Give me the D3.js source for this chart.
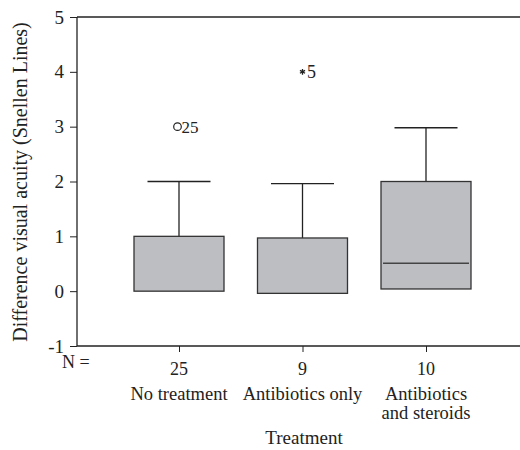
<!DOCTYPE html>
<html>
<head>
<meta charset="utf-8">
<script src="https://cdn.jsdelivr.net/npm/d3@7"></script>
<style>
  body { margin: 0; background: #fff; }
  svg text { font-family: "Liberation Serif", "Times New Roman", serif !important; fill: #222; }
</style>
</head>
<body>
<script>
// treatment groups
const groups = ["No treatment", "Antibiotics only", "Antibiotics and steroids"];
const groupLines = [["No treatment"], ["Antibiotics only"], ["Antibiotics", "and steroids"]];
const counts = [25, 9, 10];
const q1 = [0, -0.04, 0.04];
const median = [0, -0.04, 0.51];
const q3 = [1, 0.97, 2.0];
const whiskerLow = [0, -0.04, 0.04];
const whiskerHigh = [2, 1.96, 2.98];
// outliers: value, case label, symbol
const outliers = [
    { group: 0, value: 3, label: "25", symbol: "circle" },
    { group: 1, value: 4, label: "5", symbol: "star" }
];
const yTicks = [-1, 0, 1, 2, 3, 4, 5];

const width = 520, height = 450;
const plotLeft = 77, plotTop = 17, plotBottom = 346, plotRight = 520;

const svg = d3.select("body").append("svg")
    .attr("width", width)
    .attr("height", height);

const y = d3.scaleLinear().domain([-1, 5]).range([plotBottom, plotTop]);
const x = d3.scalePoint().domain(groups).range([179, 426]);
const boxW = 90, capW = 63;

// axes
svg.append("g")
    .attr("transform", `translate(${plotLeft},0)`)
    .call(d3.axisLeft(y).tickValues(yTicks).tickSize(7).tickPadding(6).tickFormat(d => String(d)))
    .call(g => g.select(".domain").remove())
    .call(g => g.selectAll("line").attr("stroke", "#222"))
    .call(g => g.selectAll("text").style("font-size", "19px").attr("fill", "#222"));

svg.append("line")
    .attr("x1", plotLeft).attr("x2", plotLeft).attr("y1", plotTop).attr("y2", plotBottom)
    .attr("stroke", "#222").attr("stroke-width", 1.3);
svg.append("line")
    .attr("x1", plotLeft).attr("x2", plotRight).attr("y1", plotTop).attr("y2", plotTop)
    .attr("stroke", "#222").attr("stroke-width", 1.3);

svg.append("g")
    .attr("transform", `translate(0,${plotBottom})`)
    .call(d3.axisBottom(x).tickSize(6).tickFormat(""))
    .call(g => g.select(".domain").remove())
    .call(g => g.selectAll("line").attr("stroke", "#222"));
svg.append("line")
    .attr("x1", plotLeft).attr("x2", plotRight).attr("y1", plotBottom).attr("y2", plotBottom)
    .attr("stroke", "#222").attr("stroke-width", 1.3);

// boxes
const box = svg.selectAll(".box")
    .data(groups)
    .enter().append("g")
    .attr("class", "box");

box.append("line")
    .attr("x1", d => x(d)).attr("x2", d => x(d))
    .attr("y1", (d, i) => y(q3[i])).attr("y2", (d, i) => y(whiskerHigh[i]))
    .attr("stroke", "#222").attr("stroke-width", 1.3);
box.append("line")
    .attr("x1", d => x(d) - capW / 2).attr("x2", d => x(d) + capW / 2)
    .attr("y1", (d, i) => y(whiskerHigh[i])).attr("y2", (d, i) => y(whiskerHigh[i]))
    .attr("stroke", "#222").attr("stroke-width", 1.3);

box.append("rect")
    .attr("x", d => x(d) - boxW / 2)
    .attr("width", boxW)
    .attr("y", (d, i) => y(q3[i]))
    .attr("height", (d, i) => y(q1[i]) - y(q3[i]))
    .attr("fill", "#bdbec2")
    .attr("stroke", "#333")
    .attr("stroke-width", 1.3);

box.filter((d, i) => median[i] > q1[i] && median[i] < q3[i])
    .append("line")
    .attr("x1", d => x(d) - boxW / 2 + 2).attr("x2", d => x(d) + boxW / 2 - 2)
    .attr("y1", d => y(median[groups.indexOf(d)])).attr("y2", d => y(median[groups.indexOf(d)]))
    .attr("stroke", "#444").attr("stroke-width", 1.5);

// outliers
outliers.forEach(o => {
    const cy = y(o.value);
    if (o.symbol === "circle") {
        const cx = x(groups[o.group]) - 1.5;
        svg.append("circle")
            .attr("cx", cx).attr("cy", cy).attr("r", 3.8)
            .attr("fill", "none").attr("stroke", "#222").attr("stroke-width", 1.2);
        svg.append("text")
            .attr("x", cx + 4).attr("y", cy + 6)
            .style("font-size", "17px")
            .text(o.label);
    } else {
        const cx = x(groups[o.group]);
        svg.append("path")
            .attr("transform", `translate(${cx},${cy})`)
            .attr("d", d3.symbol().type(d3.symbolAsterisk).size(24)())
            .attr("stroke", "#222").attr("stroke-width", 1.3).attr("fill", "none");
        svg.append("text")
            .attr("x", cx + 4.5).attr("y", cy + 6)
            .style("font-size", "18px")
            .text(o.label);
    }
});

// N = counts
svg.append("text")
    .attr("x", 62).attr("y", 368)
    .style("font-size", "18px")
    .text("N =");
svg.selectAll(".count")
    .data(groups)
    .enter().append("text")
    .attr("class", "count")
    .attr("x", d => x(d)).attr("y", 375)
    .attr("text-anchor", "middle")
    .style("font-size", "18px")
    .text((d, i) => counts[i]);

// category labels
svg.selectAll(".cat")
    .data(groups)
    .enter().append("text")
    .attr("class", "cat")
    .attr("text-anchor", "middle")
    .style("font-size", "18.5px")
    .each(function (d, i) {
        d3.select(this).selectAll("tspan")
            .data(groupLines[i])
            .enter().append("tspan")
            .attr("x", x(d))
            .attr("y", (t, j) => 400 + j * 19)
            .text(t => t);
    });

// axis titles
svg.append("text")
    .attr("x", 304).attr("y", 444)
    .attr("text-anchor", "middle")
    .style("font-size", "19px")
    .text("Treatment");

svg.append("text")
    .attr("transform", "translate(27,182) rotate(-90)")
    .attr("text-anchor", "middle")
    .style("font-size", "20px")
    .text("Difference visual acuity (Snellen Lines)");
</script>
</body>
</html>
